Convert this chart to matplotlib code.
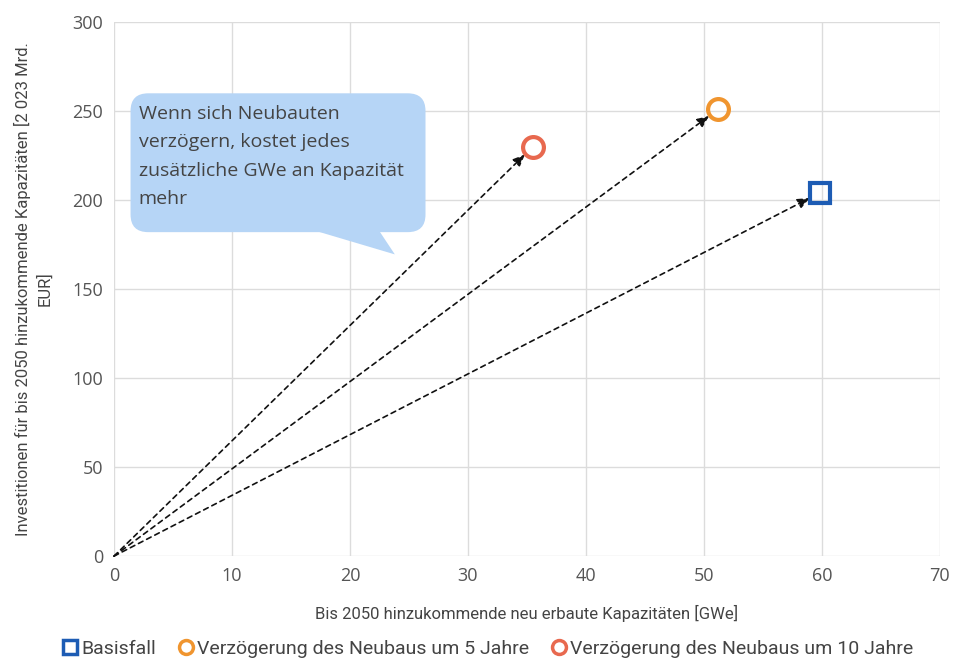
import matplotlib
matplotlib.use("Agg")
import matplotlib.pyplot as plt
from matplotlib.patches import FancyBboxPatch, Polygon
from matplotlib import font_manager

# Scenario data: new capacity built by 2050 (GWe) and investment (bn EUR 2023)
scenarios = ["Basisfall", "Verzögerung des Neubaus um 5 Jahre", "Verzögerung des Neubaus um 10 Jahre"]
capacity = [59.8, 51.2, 35.5]
investment = [204, 251, 230]
markers = ["s", "o", "o"]
colors = ["#1d5cb4", "#f0952f", "#e8694f"]

x_ticks = [0, 10, 20, 30, 40, 50, 60, 70]
y_ticks = [0, 50, 100, 150, 200, 250, 300]

callout_text = "Wenn sich Neubauten\nverzögern, kostet jedes\nzusätzliche GWe an Kapazität\nmehr"

installed = {f.name for f in font_manager.fontManager.ttflist}
narrow = "Liberation Sans Narrow" if "Liberation Sans Narrow" in installed else (
    "DejaVu Sans Condensed" if "DejaVu Sans Condensed" in installed else "Roboto")
plt.rcParams["font.family"] = ["Open Sans", "DejaVu Sans"]

fig = plt.figure(figsize=(9.55, 6.7), dpi=100)
ax = fig.add_axes([0.1194, 0.170, 0.8648, 0.797])
ax.set_xlim(0, 70)
ax.set_ylim(0, 300)
ax.set_xticks(x_ticks)
ax.set_yticks(y_ticks)
ax.grid(True, color="#dcdcdc", linewidth=1.0)
ax.set_axisbelow(True)
for s in ax.spines.values():
    s.set_visible(False)
ax.tick_params(length=0, labelsize=13, colors="#555555", pad=8)

ax.set_xlabel("Bis 2050 hinzukommende neu erbaute Kapazitäten [GWe]",
              fontsize=12, color="#444444", family=[narrow, "DejaVu Sans"], labelpad=14)
ax.set_ylabel("Investitionen für bis 2050 hinzukommende Kapazitäten [2 023 Mrd.\nEUR]",
              fontsize=12, color="#444444", family=[narrow, "DejaVu Sans"], labelpad=14,
              linespacing=1.45)

# Callout bubble
bubble_color = "#b6d5f6"
box = FancyBboxPatch((1.4, 182), 25.0, 78,
                     boxstyle="round,pad=0,rounding_size=1.5",
                     mutation_aspect=6.6, facecolor=bubble_color, edgecolor="none", zorder=2)
ax.add_patch(box)
tail = Polygon([(17.2, 182.5), (22.5, 182.5), (23.8, 169.5)], closed=True,
               facecolor=bubble_color, edgecolor="none", zorder=2)
ax.add_patch(tail)
ax.text(2.1, 253.5, callout_text, fontsize=14, color="#444444", va="top", ha="left",
        linespacing=1.75, zorder=3)

# Arrows from origin to each scenario
for cx, cy in zip(capacity, investment):
    ax.annotate("", xy=(cx, cy), xytext=(0, 0),
                arrowprops=dict(arrowstyle="-|>,head_length=0.7,head_width=0.3",
                                linestyle=(0, (3, 2.5)), color="#111111", lw=1.2,
                                shrinkA=0, shrinkB=8),
                zorder=4)

for cx, cy, m, c, lab in zip(capacity, investment, markers, colors, scenarios):
    ax.plot([cx], [cy], linestyle="none", marker=m, markersize=14 if m == "s" else 15,
            markerfacecolor="none", markeredgecolor=c, markeredgewidth=3, label=lab, zorder=5)

leg_handles = []
for m, c, lab in zip(markers, colors, scenarios):
    h, = ax.plot([], [], linestyle="none", marker=m, markersize=10,
                 markerfacecolor="none", markeredgecolor=c, markeredgewidth=2.5, label=lab)
    leg_handles.append(h)

fig.legend(handles=leg_handles, loc="lower center", ncol=3, frameon=False,
           bbox_to_anchor=(0.51, -0.008), handletextpad=0.1, columnspacing=1.0,
           handlelength=1.0, prop={"family": [narrow, "DejaVu Sans"], "size": 14},
           labelcolor="#444444")

fig.savefig("out.png", dpi=100)
